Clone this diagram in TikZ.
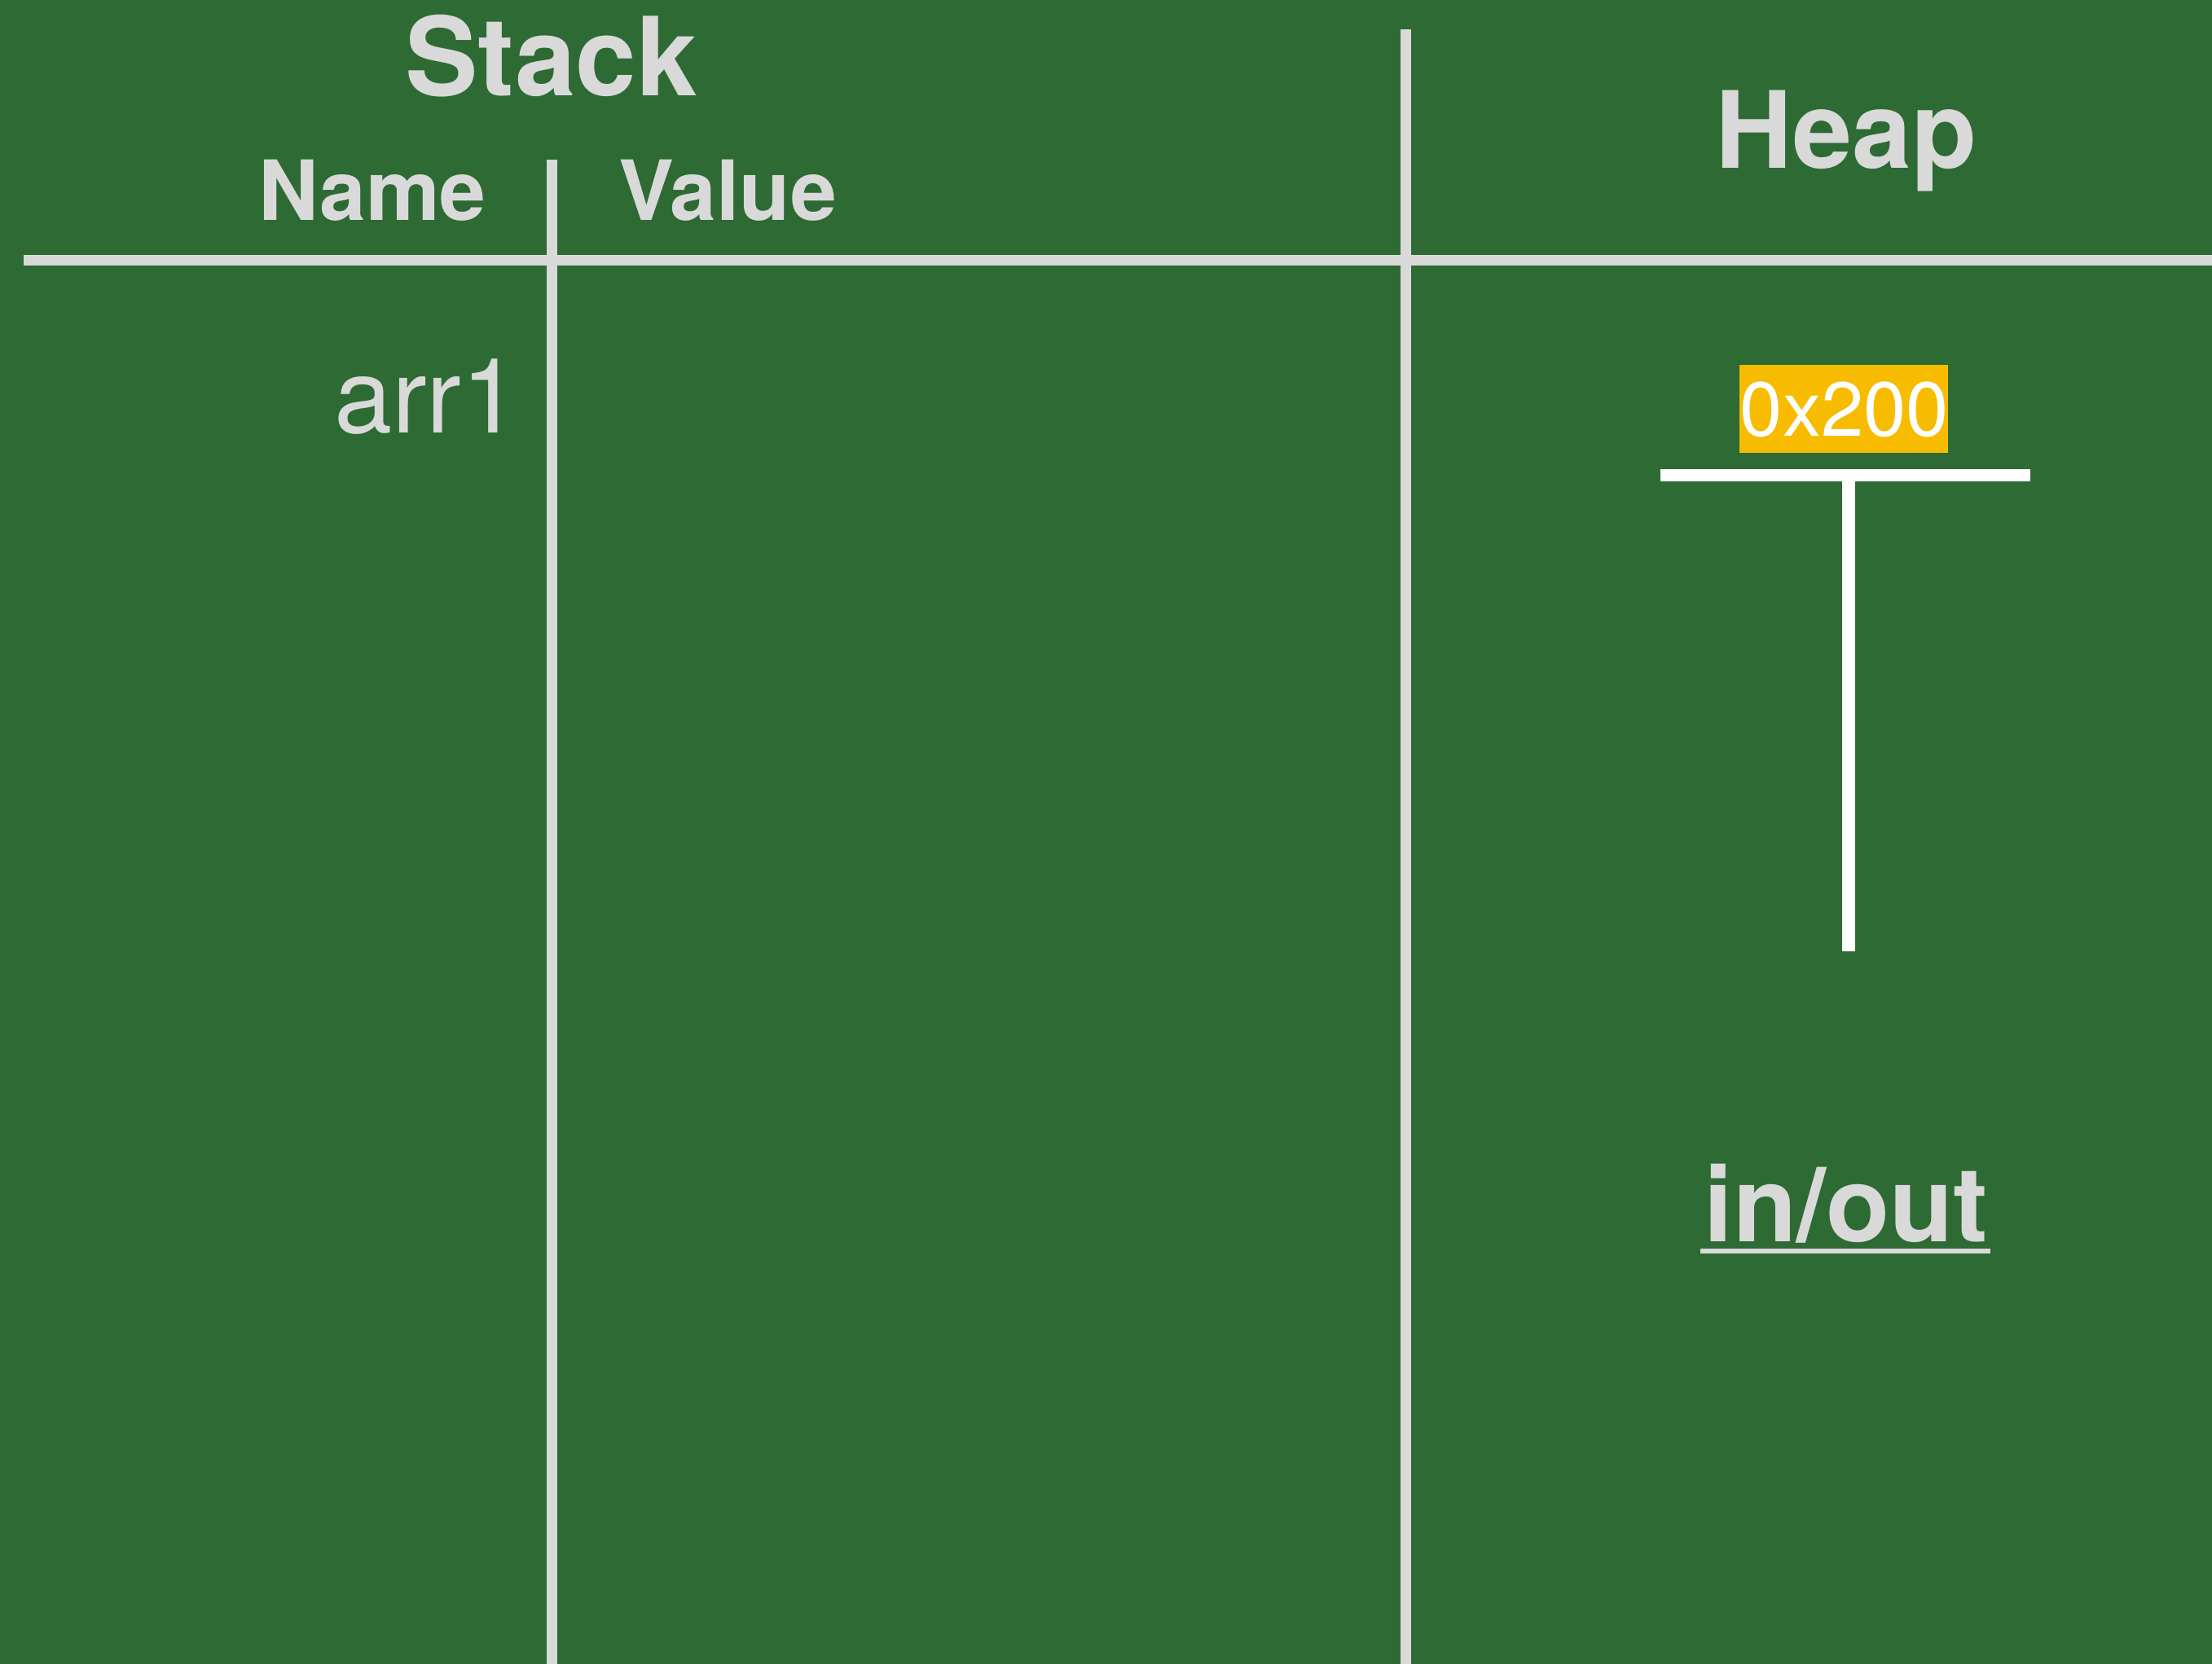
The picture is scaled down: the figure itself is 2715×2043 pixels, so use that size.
\documentclass[tikz,border=0pt]{standalone}
\usepackage{fontspec}
\setmainfont{TeX Gyre Heros}
\definecolor{board}{RGB}{46,106,51}
\definecolor{chalk}{RGB}{217,217,217}
\definecolor{addr}{RGB}{247,188,0}
\begin{document}
\begin{tikzpicture}[x=0.5pt,y=-0.5pt,
  gridline/.style={draw=chalk,line width=6.5pt},
  tline/.style={draw=white,line width=7.5pt},
  lbl/.style={inner sep=0pt,anchor=base,text=chalk}]
\fill[board] (0,0) rectangle (2715,2043);
\useasboundingbox (0,0) rectangle (2715,2043);
% grid
\draw[gridline] (29,320) -- (2715,320);
\draw[gridline] (677,196) -- (677,2043);
\draw[gridline] (1725,36) -- (1725,2043);
% headings
\node[lbl,font=\bfseries\fontsize{67}{67}\selectfont] (stack) at (677,118) {Stack};
\node[lbl,font=\bfseries\fontsize{51}{51}\selectfont] (name) at (457,271) {Name};
\node[lbl,font=\bfseries\fontsize{51}{51}\selectfont] (value) at (893,271) {Value};
\node[lbl,font=\bfseries\fontsize{65.5}{65.5}\selectfont] (heap) at (2266,207) {Heap};
% stack entry
\node[lbl,anchor=base east,font=\fontsize{64}{64}\selectfont] (arr) at (638,532) {arr1};
% heap object
\fill[addr] (2135,448) rectangle (2391,556);
\node[inner sep=0pt,anchor=base,text=white,font=\fontsize{47}{47}\selectfont] (addr) at (2264,536) {0x200};
\coordinate (tl) at (2038,584);
\coordinate (tr) at (2492,584);
\coordinate (tt) at (2269,584);
\coordinate (tb) at (2269,1168);
\draw[tline] (tl) -- (tr);
\draw[draw=white,line width=8pt] (tt) -- (tb);
% in/out
\node[lbl,font=\bfseries\fontsize{64}{64}\selectfont] (inout) at (2266,1524) {in/out};
\coordinate (ul) at (2087,1536);
\coordinate (ur) at (2443,1536);
\draw[draw=chalk,line width=3pt] (ul) -- (ur);
\end{tikzpicture}
\end{document}
